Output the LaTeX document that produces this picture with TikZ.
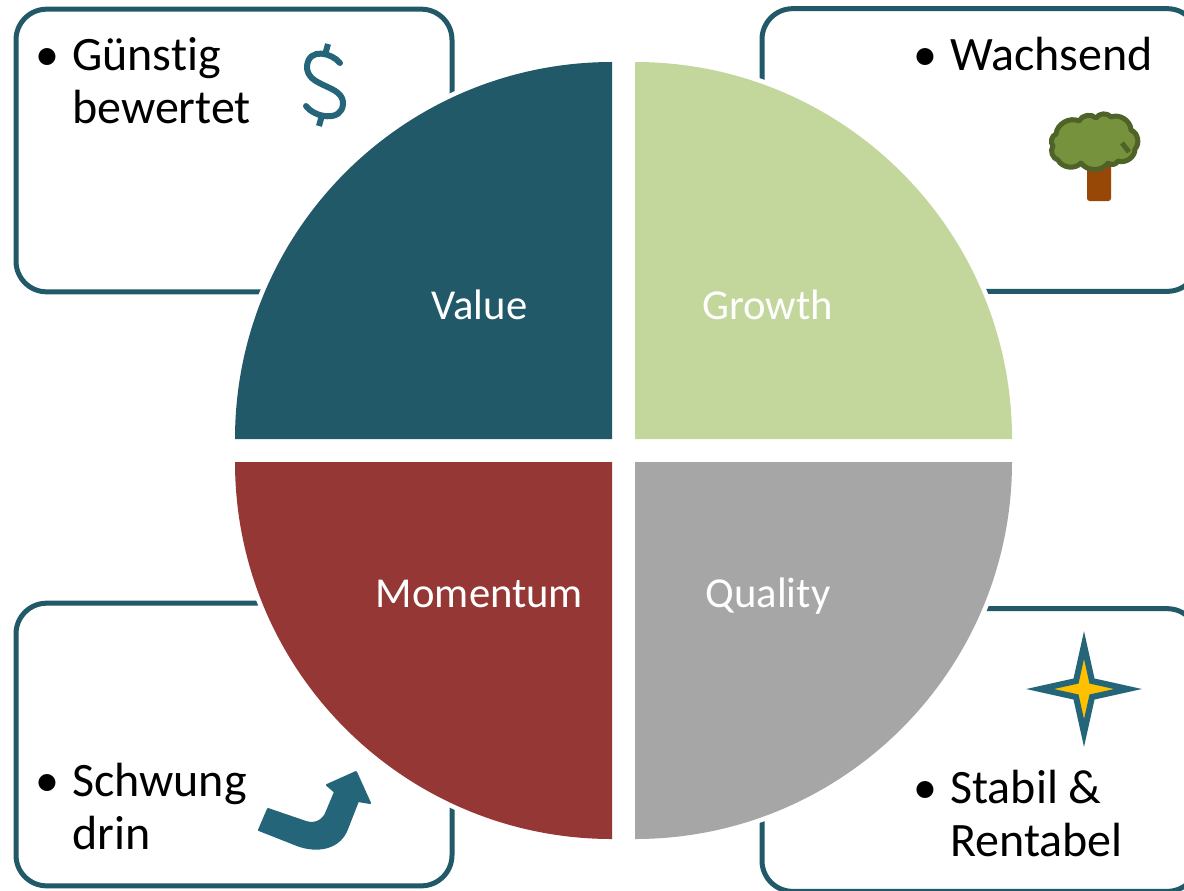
\documentclass[tikz,border=0pt]{standalone}
\usepackage{fontspec}
\setmainfont[Ligatures=NoCommon]{Carlito}
\pgfdeclarelayer{bg}
\pgfsetlayers{bg,main}
\definecolor{teal1}{HTML}{215968}
\definecolor{teal2}{HTML}{256579}
\definecolor{growthgreen}{HTML}{C3D69B}
\definecolor{momentumred}{HTML}{953735}
\definecolor{qualitygray}{HTML}{A6A6A6}
\definecolor{crowngreen}{HTML}{76923C}
\definecolor{crownline}{HTML}{4F6228}
\definecolor{trunkbrown}{HTML}{974706}
\definecolor{staryellow}{HTML}{FFC000}
\newcommand{\itemfirst}[1]{\llap{\textbullet\hspace{10pt}}#1}
\tikzset{
    infobox/.style={draw=teal1,line width=3.75pt,fill=white,rounded corners=23pt,minimum width=327pt,minimum height=212pt},
    sector/.style={preaction={draw=white,line width=7pt}},
    sectorlabel/.style={anchor=base,text=white,inner sep=0pt,font=\fontsize{32}{38}\selectfont},
    itemtext/.style={anchor=north west,inner sep=0pt,align=left,font=\fontsize{36}{39.6}\selectfont},
    puff/.style={bend left=55}
}

\begin{document}
\begin{tikzpicture}[x=0.75pt,y=-0.75pt]
    \useasboundingbox (0,0) rectangle (1184,890);

    \begin{pgfonlayer}{bg}    % boxes behind the circle
        \node [infobox] (valuebox) at (234,150.5) {};
        \node [infobox] (growthbox) at (980,150) {};
        \node [infobox] (momentumbox) at (234,744.5) {};
        \node [infobox] (qualitybox) at (980,750) {};
    \end{pgfonlayer}

    \fill [teal1,sector] (612,439) -- (235,439) arc[start angle=180,end angle=90,radius=282.75pt] -- cycle;
    \fill [growthgreen,sector] (635,439) -- (635,62) arc[start angle=90,end angle=0,radius=282.75pt] -- cycle;
    \fill [momentumred,sector] (612,462) -- (612,839) arc[start angle=270,end angle=180,radius=282.75pt] -- cycle;
    \fill [qualitygray,sector] (635,462) -- (1012,462) arc[start angle=0,end angle=-90,radius=282.75pt] -- cycle;

    \node [sectorlabel] (value) at (479.5,319) {Value};
    \node [sectorlabel] (growth) at (767.5,319) {Growth};
    \node [sectorlabel] (momentum) at (479.5,607.5) {Momentum};
    \node [sectorlabel] (quality) at (768,607.5) {Quality};

    \node [itemtext] (guenstig) at (72,37) {\itemfirst{Günstig}\\bewertet};
    \node [itemtext] (wachsend) at (950,37) {\itemfirst{Wachsend}};
    \node [itemtext] (schwung) at (72,763) {\itemfirst{Schwung}\\drin};
    \node [itemtext] (stabil) at (950,770) {\itemfirst{Stabil \&}\\Rentabel};

    % dollar
    \draw [teal2,line width=4.5pt,line cap=round] (340,63) .. controls (332,53) and (309,47) .. (307,66)
        .. controls (306,88) and (344,84) .. (343,104) .. controls (342,122) and (315,118) .. (306,106);
    \draw [teal2,line width=4.5pt] (328,44) -- (325,55);
    \draw [teal2,line width=4.5pt] (322,115) -- (319,126);

    % tree
    \fill [trunkbrown,rounded corners=2pt] (1087,160) rectangle (1111,201);
    \draw [crownline,fill=crowngreen,line width=3.75pt,line join=round] (1056,134) to[puff] (1079,121) to[puff] (1096,118)
        to[puff] (1111,117) to[puff] (1131,130) to[puff] (1135,149) to[puff] (1118,161) to[puff] (1108,163)
        to[puff] (1081,163) to[puff] (1058,160) to[puff] (1053,146) to[puff] cycle;
    \draw [crownline,line width=3.75pt] (1122,143) -- (1129,152);

    % star
    \draw [teal2,fill=staryellow,line width=4.5pt,miter limit=10] (1084,645) -- (1092,681) -- (1128,689) -- (1092,697)
        -- (1084,733) -- (1076,697) -- (1040,689) -- (1076,681) -- cycle;

    % arrow
    \fill [teal2,draw=teal2,line width=1.5pt,line join=round] (268,809) -- (259,830) -- (297,845)
        .. controls (318,853) and (340,848) .. (347,829) -- (358,801) -- (370,803) -- (356,772) -- (327,785) -- (335,792)
        -- (327,811) .. controls (324,820) and (316,825) .. (306,822) -- cycle;
\end{tikzpicture}
\end{document}
